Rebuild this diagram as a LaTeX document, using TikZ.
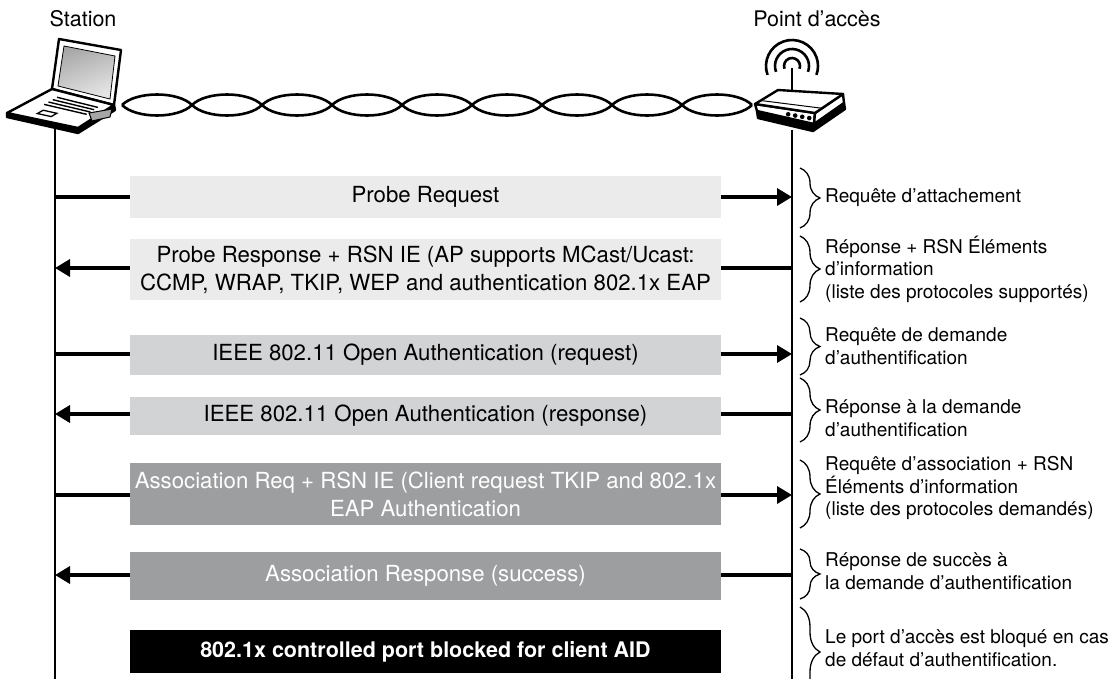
\documentclass[tikz,border=0pt]{standalone}
\usepackage{fontspec}
\setmainfont{TeX Gyre Heros}
\usetikzlibrary{arrows.meta,calc,decorations.pathreplacing}
\definecolor{boxA}{HTML}{EBEBEB}
\definecolor{boxB}{HTML}{D2D3D5}
\definecolor{boxC}{HTML}{9D9EA0}
\definecolor{scrA}{HTML}{E6E6E6}
\definecolor{scrB}{HTML}{A8A8A8}
\begin{document}
\begin{tikzpicture}[x=1pt,y=-1pt,
  lifeline/.style={line width=2.5pt},
  msg/.style={line width=3.5pt,-{Triangle[length=15pt,width=17pt]}},
  msgbox/.style={minimum width=591pt,inner sep=0pt,align=center,
    font=\fontsize{22.2}{28}\selectfont},
  boxlight/.style={msgbox,fill=boxA},
  boxmid/.style={msgbox,fill=boxB},
  boxdark/.style={msgbox,fill=boxC,text=white},
  boxblack/.style={msgbox,fill=black,text=white,font=\fontsize{21.5}{27}\selectfont\bfseries},
  bracket/.style={decorate,decoration={brace,amplitude=20pt},line width=1.3pt},
  note/.style={anchor=west,align=left,inner sep=0pt,font=\fontsize{19}{22.5}\selectfont},
  title/.style={font=\fontsize{21.5}{25}\selectfont},
  hw/.style={line width=2.4pt,line join=round},
  cable/.style={line width=2.6pt},
]
\useasboundingbox (0,0) rectangle (1112,678);

% ---------- titles ----------
\node[title] (ttlS) at (83,19) {Station};
\node[title] (ttlA) at (817,19) {Point d’accès};

% ---------- laptop ----------
\coordinate (L1) at (59,39);
\coordinate (L2) at (121,50);
\coordinate (L3) at (114,105);
\coordinate (L4) at (52,89);
\coordinate (B3) at (78,128);
\coordinate (B4) at (7,113);
\filldraw[hw,fill=white] (L1) -- (L2) -- (L3) -- (L4) -- cycle;
\shade[top color=scrB,bottom color=scrA,shading angle=20]
  (64,46) -- (115,56) -- (110,99) -- (58,86) -- cycle;
\draw[line width=0.8pt] (64,46) -- (115,56) -- (110,99) -- (58,86) -- cycle;
% base: front thickness, then top face
\filldraw[hw,fill=black] (B4) -- (B3) -- (L3) -- (115,110) -- (78,133) -- (7,117) -- cycle;
\filldraw[hw,fill=white] (L4) -- (L3) -- (B3) -- (B4) -- cycle;
\foreach \v in {0.2,0.3,0.4,0.5} {
  \coordinate (kl) at ($(L4)!\v!(B4)$);
  \coordinate (kr) at ($(L3)!\v!(B3)$);
  \draw[line width=1.4pt] ($(kl)!0.22!(kr)$) -- ($(kl)!0.86!(kr)$);
}
\coordinate (tl) at ($(L4)!0.68!(B4)$);
\coordinate (tr) at ($(L3)!0.68!(B3)$);
\coordinate (bl) at ($(L4)!0.82!(B4)$);
\coordinate (br) at ($(L3)!0.82!(B3)$);
\draw[line width=1.3pt] ($(tl)!0.32!(tr)$) -- ($(tl)!0.52!(tr)$) -- ($(bl)!0.52!(br)$) -- ($(bl)!0.32!(br)$) -- cycle;
% PC card
\filldraw[line width=1pt,fill=gray!70] (89,113) -- (112,109) -- (110,117) -- (92,121) -- cycle;

% ---------- access point ----------
\coordinate (wc) at (792,66);
\foreach \r in {8,17,26}
  \draw[line width=2.6pt] (wc) ++(200:\r pt) arc[start angle=200,end angle=-20,radius=\r pt];
\draw[line width=2pt] (792,68) -- (792,94);
\coordinate (T1) at (755,104);
\coordinate (T2) at (778,90);
\coordinate (T3) at (843,94);
\coordinate (T4) at (815,113);
\filldraw[hw,fill=black] (757,111) -- (814,124) -- (844,103) -- (845,109) -- (813,131) -- (758,118) -- cycle;
\filldraw[hw,fill=white] (T1) -- (T4) -- (814,124) -- (757,111) -- cycle;
\filldraw[hw,fill=white] (T4) -- (T3) -- (844,103) -- (814,124) -- cycle;
\filldraw[hw,fill=white] (T1) -- (T2) -- (T3) -- (T4) -- cycle;
\draw[line width=1pt] ($(T1)!0.25!(T2)$) -- ($(T4)!0.25!(T3)$);
\foreach \u in {0.55,0.67,0.79,0.91}
  \fill ({756+58.5*\u},{108.5+10.5*\u}) circle (2.3pt);

% ---------- wireless link ----------
\foreach \i in {0,...,8} {
  \pgfmathsetmacro{\xa}{122+70*\i}
  \draw[cable] (\xa,105) .. controls (\xa+14,91) and (\xa+56,91) .. (\xa+70,105);
  \draw[cable] (\xa,105) .. controls (\xa+14,119) and (\xa+56,119) .. (\xa+70,105);
}

% ---------- lifelines ----------
\coordinate (sTop) at (55,126);
\coordinate (sBot) at (55,680);
\coordinate (aTop) at (792,130);
\coordinate (aBot) at (792,680);
\draw[lifeline] (sTop) -- (sBot);
\draw[lifeline] (aTop) -- (aBot);

% ---------- message arrows ----------
\foreach \n/\y in {1/197,2/268,3/354,4/414,5/495,6/575} {
  \coordinate (s\n) at (55,\y);
  \coordinate (a\n) at (792,\y);
}
\draw[msg] (s1) -- (a1);
\draw[msg] (a2) -- (s2);
\draw[msg] (s3) -- (a3);
\draw[msg] (a4) -- (s4);
\draw[msg] (s5) -- (a5);
\draw[msg] (a6) -- (s6);

% ---------- message boxes ----------
\node[boxlight,minimum height=42pt] (m1) at (425.5,197) {Probe Request};
\node[boxlight,minimum height=61pt] (m2) at (425.5,269.5)
  {Probe Response + RSN IE (AP supports MCast/Ucast:\\CCMP, WRAP, TKIP, WEP and authentication 802.1x EAP};
\node[boxmid,minimum height=40pt] (m3) at (425.5,355) {IEEE 802.11 Open Authentication (request)};
\node[boxmid,minimum height=38pt] (m4) at (425.5,416) {IEEE 802.11 Open Authentication (response)};
\node[boxdark,minimum height=62pt] (m5) at (425.5,494)
  {Association Req + RSN IE (Client request TKIP and 802.1x\\EAP Authentication};
\node[boxdark,minimum height=48pt] (m6) at (425.5,576) {Association Response (success)};
\node[boxblack,minimum height=43pt] (m7) at (425.5,651.5) {802.1x controlled port blocked for client AID};

% ---------- annotations ----------
\foreach \n/\ya/\yb in {1/168/228,2/236/302,3/318/375,4/378/442,5/460/528,6/549/599,7/607/697}
  \draw[bracket] (800,\ya) -- (800,\yb) coordinate[midway] (br\n);
\node[note] (n1) at (825,198) {Requête d’attachement};
\node[note] (n2) at (825,269) {Réponse + RSN Éléments\\d’information\\(liste des protocoles supportés)};
\node[note] (n3) at (825,346) {Requête de demande\\d’authentification};
\node[note] (n4) at (825,418) {Réponse à la demande\\d’authentification};
\node[note] (n5) at (825,488) {Requête d’association + RSN\\Éléments d’information\\(liste des protocoles demandés)};
\node[note] (n6) at (825,571) {Réponse de succès à\\la demande d’authentification};
\node[note] (n7) at (825,648) {Le port d’accès est bloqué en cas\\de défaut d’authentification.};
\end{tikzpicture}
\end{document}
